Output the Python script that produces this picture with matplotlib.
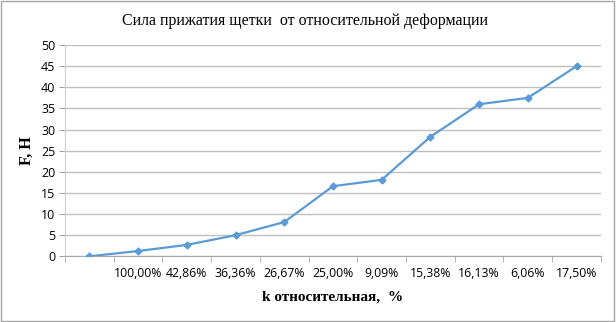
import matplotlib.pyplot as plt

# data
categories = ["", "100,00%", "42,86%", "36,36%", "26,67%", "25,00%",
              "9,09%", "15,38%", "16,13%", "6,06%", "17,50%"]
force = [0, 1.25, 2.7, 5.0, 8.1, 16.6, 18.1, 28.3, 36.0, 37.5, 45.0]
y_ticks = [0, 5, 10, 15, 20, 25, 30, 35, 40, 45, 50]

line_color = "#5B9BD5"
grid_color = "#BFBFBF"

fig = plt.figure(figsize=(6.16, 3.22), dpi=100)
ax = fig.add_axes([0.1055, 0.204, 0.870, 0.656])

x = list(range(len(categories)))
ax.plot(x, force, color=line_color, linewidth=1.6, marker="D",
        markersize=3.5, zorder=3)

ax.set_xlim(-0.5, len(categories) - 0.5)
ax.set_ylim(0, 50)
ax.set_yticks(y_ticks)
ax.set_yticklabels([str(v) for v in y_ticks], fontsize=9, family="Open Sans")
ax.set_xticks(x)
ax.set_xticklabels(categories, fontsize=8.8, family="Open Sans")
ax.tick_params(axis="x", length=0, pad=8)
ax.set_xticks([i - 0.5 for i in range(len(categories) + 1)], minor=True)
ax.tick_params(axis="x", which="minor", length=4, color="#A6A6A6", direction="out")
ax.tick_params(axis="y", length=4, color="#A6A6A6", pad=3)

ax.grid(axis="y", color=grid_color, linewidth=1)
ax.set_axisbelow(True)
for side in ["top", "right"]:
    ax.spines[side].set_visible(False)
ax.spines["left"].set_color("#D0D0D0")
ax.spines["bottom"].set_color("#A6A6A6")

fig.text(0.495, 0.935, "Сила прижатия щетки  от относительной деформации",
         ha="center", va="center", fontsize=11.5, family="Liberation Serif")
ax.set_ylabel("F, H", fontsize=11.5, fontweight="bold", family="Liberation Serif",
              labelpad=4)
ax.set_xlabel("k относительная,  %", fontsize=11, fontweight="bold",
              family="Liberation Serif", labelpad=7)

# thin border around the chart area
fig.patches.append(plt.Rectangle((0.002, 0.003), 0.995, 0.993,
                                 transform=fig.transFigure, fill=False,
                                 edgecolor="#A6A6A6", linewidth=1))

fig.savefig("out.png", dpi=100)
